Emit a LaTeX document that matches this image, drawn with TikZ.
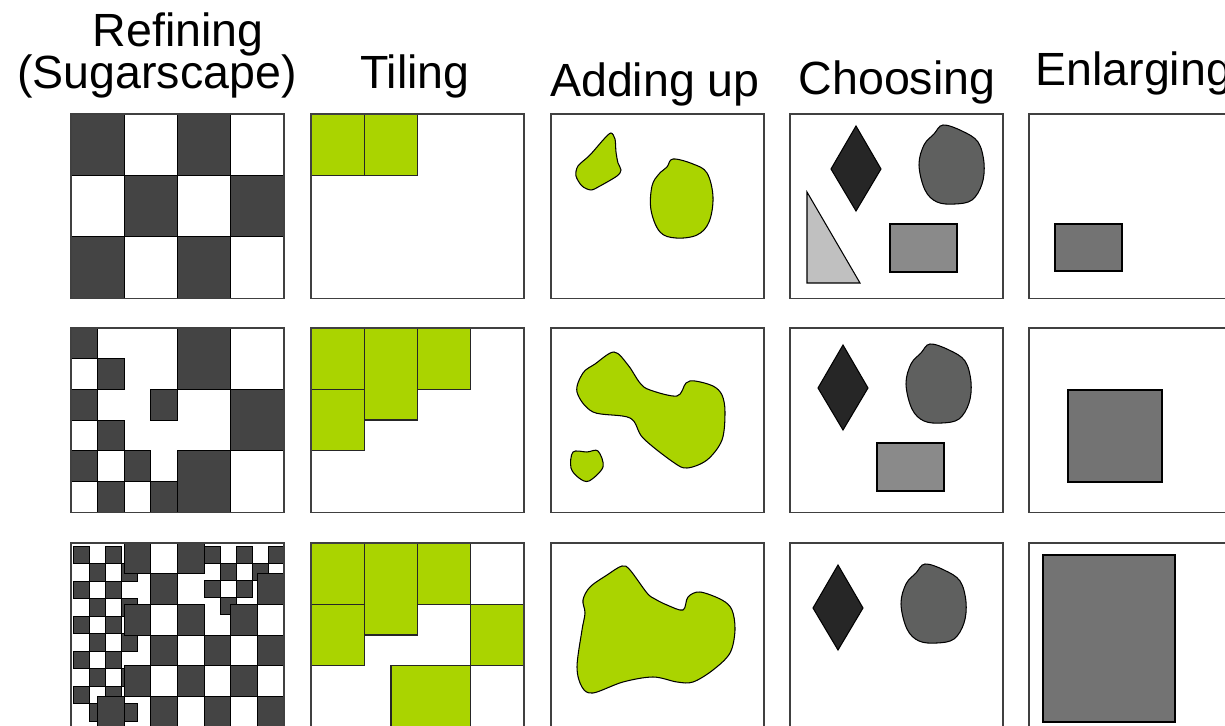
\documentclass[tikz,border=0pt]{standalone}
\usepackage{fontspec}
\setmainfont{Liberation Sans}

\definecolor{checker}{HTML}{444444}
\definecolor{leaf}{HTML}{AAD400}
\definecolor{diam}{HTML}{262626}
\definecolor{stone}{HTML}{5F605F}
\definecolor{slab}{HTML}{8A8A8A}
\definecolor{wedge}{HTML}{C0C0C0}
\definecolor{boxgray}{HTML}{737373}

\begin{document}
\begin{tikzpicture}[
        x=0.02cm, y=-0.02cm, % one unit is one pixel, y going down
        panel/.style={draw=black!75, line width=0.7pt},
        darkcell/.style={fill=checker, draw=black, line width=0.5pt},
        tile/.style={fill=leaf, draw=black!85, line width=0.8pt},
        blob/.style={fill=leaf, draw=black, line width=0.6pt},
        shade/.style={draw=black, line width=0.6pt},
        title/.style={font=\fontsize{26.5}{30}\selectfont, inner sep=0pt}
    ]
        \useasboundingbox (0,0) rectangle (1225,726);
        \fill[white] (0,0) rectangle (1225,726);
        \clip (0,0) rectangle (1225,726);

        % Column titles
        \node[title, anchor=base] (refining) at (178,47) {Refining};
        \node[title, anchor=base] (sugar)    at (157,89) {(Sugarscape)};
        \node[title, anchor=base] (tiling)   at (415,89) {Tiling};
        \node[title, anchor=base] (adding)   at (655,97) {Adding up};
        \node[title, anchor=base] (choosing) at (897,95) {Choosing};
        \node[title, anchor=base west] (enlarging) at (1035,86) {Enlarging};

        % Refining, row 1: coarse checkerboard
        \foreach \i in {0,...,3}
            \foreach \j in {0,...,2} {
                \pgfmathtruncatemacro\pp{mod(\i+\j,2)}
                \ifnum\pp=0
                    \draw[darkcell] ({71+53.25*\i},{114+61.33*\j}) rectangle +(53.25,61.33);
                \fi
            }

        % Refining, row 2: some cells split in four
        \foreach \c/\r/\s in {0/0/1, 4/0/2, 1/1/1, 0/2/1, 3/2/1, 6/2/2,
                              1/3/1, 0/4/1, 2/4/1, 4/4/2, 1/5/1, 3/5/1}
            \draw[darkcell] ({71+26.625*\c},{328+30.67*\r}) rectangle +({26.625*\s},{30.67*\s});

        % Refining, row 3: fine strip on the left
        \foreach \i in {0,...,3}
            \foreach \j in {0,...,9} {
                \pgfmathtruncatemacro\pp{mod(\i+\j,2)}
                \ifnum\pp=0
                    \draw[darkcell] ({73+16*\i},{546+17.5*\j}) rectangle +(16,17.5);
                \fi
            }
        % fine cells top right
        \foreach \i/\j in {0/0, 2/0, 4/0, 1/1, 3/1, 0/2, 2/2, 1/3}
            \draw[darkcell] ({204+16*\i},{546+17*\j}) rectangle +(16,17);
        % medium cells
        \foreach \k/\r in {2/0, 4/0, 3/1, 7/1, 2/2, 4/2, 6/2, 3/3, 5/3, 7/3,
                           2/4, 4/4, 6/4, 1/5, 3/5, 5/5, 7/5}
            \draw[darkcell] ({71+26.625*\k},{543+30.67*\r}) rectangle +(26.625,30.67);

        % Tiling
        \draw[tile] (311,114) rectangle (364.25,175.33);
        \draw[tile] (364.25,114) rectangle (417.5,175.33);

        \draw[tile] (311,328) rectangle (364.25,389.33);
        \draw[tile] (311,389.33) rectangle (364.25,450.67);
        \draw[tile] (364.25,328) rectangle (417.5,420);
        \draw[tile] (417.5,328) rectangle (470.75,389.33);

        \draw[tile] (311,543) rectangle (364.25,604.33);
        \draw[tile] (311,604.33) rectangle (364.25,665.67);
        \draw[tile] (364.25,543) rectangle (417.5,635);
        \draw[tile] (417.5,543) rectangle (470.75,604.33);
        \draw[tile] (470.75,604.33) rectangle (524,665.67);
        \draw[tile] (390.9,665.67) rectangle (470.75,757.67);

        % Adding up
        \draw[blob] plot[smooth cycle, tension=0.5] coordinates {(611,133) (615,139) (616,152) (618,163)
            (621,170) (617,176) (600,186) (591,190) (582,186) (576,176) (578,166) (590,155) (604,139)};
        \draw[blob] plot[smooth cycle, tension=0.6] coordinates {(673,159) (693,164) (707,173) (713,197)
            (709,222) (697,235) (676,238) (660,232) (651,210) (652,186) (659,174) (667,167)};

        \draw[blob] plot[smooth cycle, tension=0.55] coordinates {(614,352) (628,365) (640,383) (650,390)
            (677,396) (686,383) (695,381) (713,386) (722,395) (725,412) (722,440) (707,460) (687,468)
            (673,462) (643,438) (630,418) (593,412) (577,392) (583,373) (595,364)};
        \draw[blob] plot[smooth cycle, tension=0.55] coordinates {(573,452) (587,452) (598,451)
            (603,467) (589,481) (579,478) (571,468)};

        \draw[blob] plot[smooth cycle, tension=0.55] coordinates {(622,566) (630,570) (647,593) (655,599)
            (667,605) (683,610) (688,597) (700,592) (722,600) (732,610) (735,630) (730,653) (713,670)
            (693,682) (677,682) (653,677) (623,682) (593,693) (582,687) (577,667) (582,630) (585,613)
            (583,600) (590,587) (607,575)};

        % Choosing, the same pieces moved down each row
        \draw[shade, fill=wedge] (807,192) -- (807,283) -- (860,283) -- cycle;
        \foreach \dx/\dy/\full in {0/0/1, -13/219/1, -18/439/0} {
            \begin{scope}[shift={(\dx,\dy)}]
                \draw[shade, fill=diam] (856,126) -- (881,169) -- (856,211) -- (831,169) -- cycle;
                \draw[shade, fill=stone] plot[smooth cycle, tension=0.6] coordinates {(943,125) (962,131)
                    (978,142) (984,163) (982,184) (972,200) (955,204) (937,202) (925,190) (919,165)
                    (924,145) (934,134)};
                \ifnum\full=1
                    \draw[shade, fill=slab] (890,224) rectangle (957,272);
                \fi
            \end{scope}
        }

        % Enlarging
        \draw[shade, fill=boxgray] (1055,224) rectangle (1122,271);
        \draw[shade, fill=boxgray] (1068,390) rectangle (1162,482);
        \draw[shade, fill=boxgray] (1043,555) rectangle (1175,722);

        % Panel frames
        \foreach \x in {71,311,551,790,1029}
            \foreach \y in {114,328,543}
                \draw[panel] (\x,\y) rectangle +(213,184.5);

\end{tikzpicture}
\end{document}
